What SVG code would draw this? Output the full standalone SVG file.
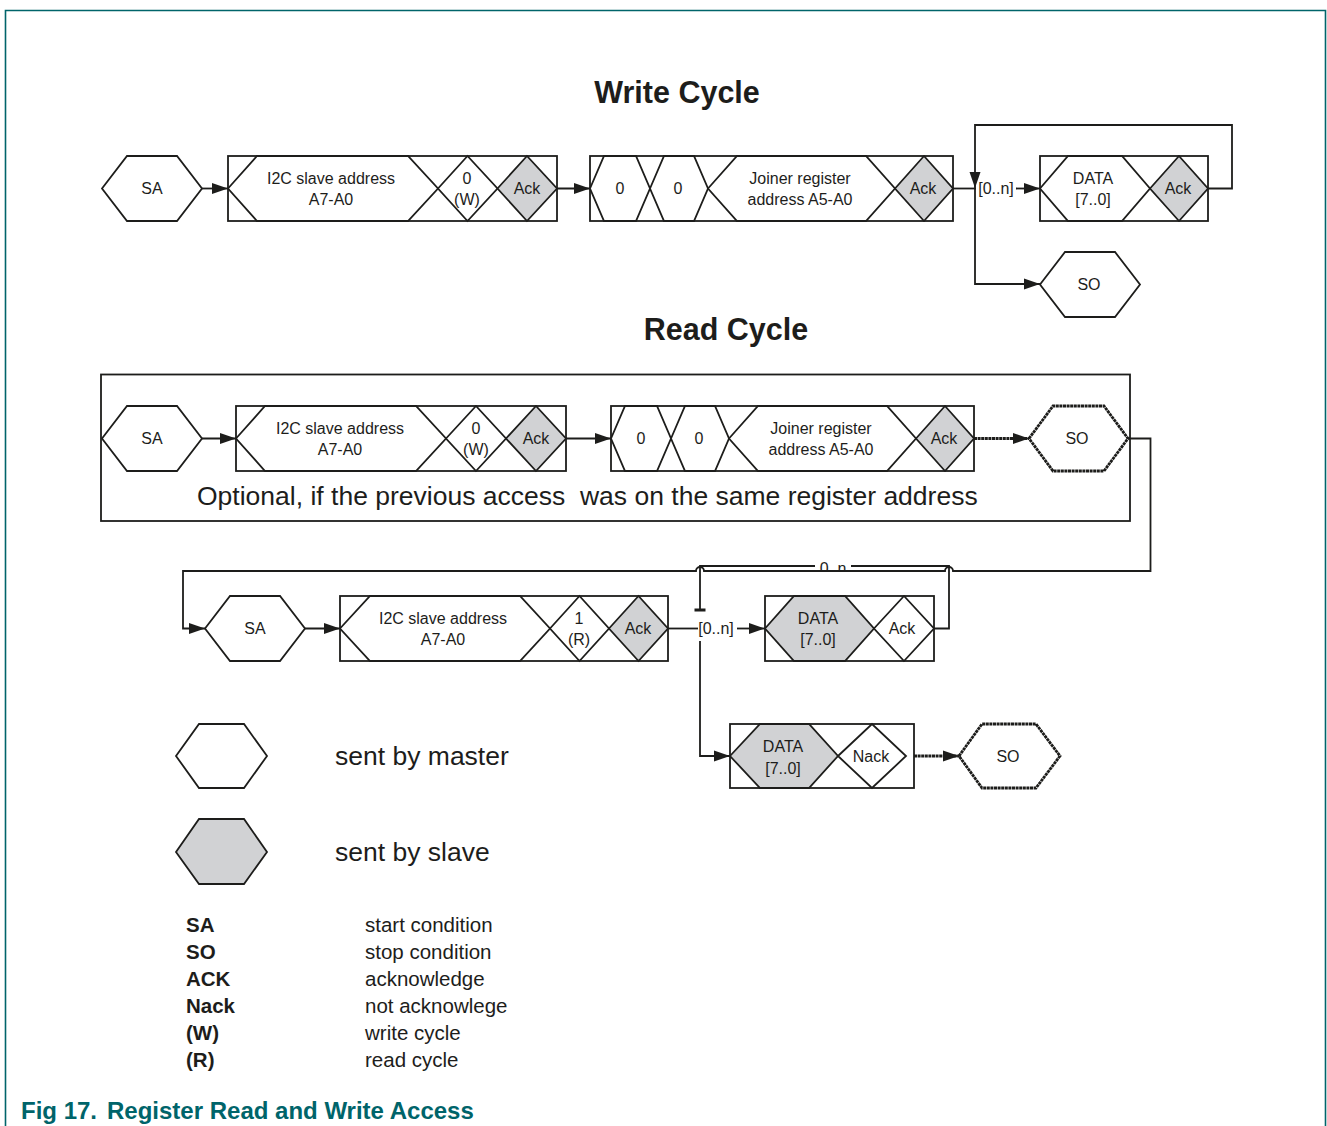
<svg xmlns="http://www.w3.org/2000/svg" width="1327" height="1126" viewBox="0 0 1327 1126">
<style>
text{font-family:"Liberation Sans",Arial,sans-serif;fill:#1d1d1b}
.t{font-size:16px;text-anchor:middle}
.box{fill:#fff;stroke:#1d1d1b;stroke-width:1.8}
.m{fill:#fff;stroke:#1d1d1b;stroke-width:1.8;stroke-linejoin:miter}
.s{fill:#d1d2d4;stroke:#1d1d1b;stroke-width:1.8;stroke-linejoin:miter}
.dso{fill:#fff;stroke:#1d1d1b;stroke-width:2.8;stroke-dasharray:3 0.6}
.c{fill:none;stroke:#1d1d1b;stroke-width:1.8}
.cd{fill:none;stroke:#1d1d1b;stroke-width:2.8;stroke-dasharray:3 0.6}
.title{font-size:30.5px;font-weight:bold;text-anchor:middle}
.lg{font-size:26.5px}
.lb{font-size:20.5px;font-weight:bold}
.ld{font-size:20.5px}
.cap{font-size:24px;font-weight:bold;fill:#00646a}
</style>
<defs>
<marker id="ah" markerUnits="userSpaceOnUse" markerWidth="16" markerHeight="12" refX="16" refY="6" orient="auto">
<path d="M0,0.5 L16,6 L0,11.5 z" fill="#1d1d1b"/>
</marker>
<clipPath id="clipn"><rect x="800" y="550" width="70" height="20"/></clipPath>
</defs>

<g id="frame" fill="none" stroke="#00646a" stroke-width="1.6">
<path d="M5.5,1126 V10.5 H1325.5 V1126"/>
</g>

<text class="title" x="677" y="103">Write Cycle</text>
<text class="title" x="726" y="340">Read Cycle</text>

<g id="optional-box">
<rect x="101" y="374.5" width="1029" height="146.5" fill="none" stroke="#1d1d1b" stroke-width="1.8"/>
<text x="197" y="505" style="font-size:26.5px;white-space:pre" xml:space="preserve">Optional, if the previous access  was on the same register address</text>
</g>

<g id="connectors">
<!-- write cycle -->
<path class="c" d="M202,188.5 H228" marker-end="url(#ah)"/>
<path class="c" d="M557,188.5 H590" marker-end="url(#ah)"/>
<path class="c" d="M953,188.5 H976"/>
<path class="c" d="M1208,188.5 H1232 V125 H975 V188" marker-end="url(#ah)"/>
<path class="c" d="M975,188 V284 H1040" marker-end="url(#ah)"/>
<path class="c" d="M1016,188.5 H1040" marker-end="url(#ah)"/>
<text class="t" x="996" y="194">[0..n]</text>
<!-- read cycle -->
<path class="c" d="M202,438.5 H236" marker-end="url(#ah)"/>
<path class="c" d="M566,438.5 H611" marker-end="url(#ah)"/>
<path class="cd" d="M974,438.5 H1029" marker-end="url(#ah)"/>
<path class="c" d="M1128,438.5 H1150.5 V571 H953 A4,4 0 0 0 945,571 H704 A4,4 0 0 0 696,571 H183 V628.5 H205" marker-end="url(#ah)"/>
<path class="c" d="M305,628.5 H340" marker-end="url(#ah)"/>
<path class="c" d="M668,628.5 H698"/>
<path class="c" d="M737,628.5 H765" marker-end="url(#ah)"/>
<text class="t" x="716" y="634">[0..n]</text>
<path class="c" d="M934,628.5 H949 V566 H851"/>
<path class="c" d="M815,566 H700 V610"/>
<rect x="694.5" y="608.5" width="11" height="3" fill="#1d1d1b"/>
<text class="t" x="833" y="574" clip-path="url(#clipn)">0..n</text>
<path class="c" d="M700,641 V756 H730" marker-end="url(#ah)"/>
<path class="cd" d="M914,756 H959" marker-end="url(#ah)"/>
</g>

<!-- Write cycle nodes -->
<g id="w-sa">
<polygon class="m" points="102,188.5 127,156 177,156 202,188.5 177,221 127,221"/>
<text class="t" x="152" y="194">SA</text>
</g>
<g id="w-addr">
<rect class="box" x="228" y="156" width="329" height="65"/>
<polygon class="m" points="228,188.5 257,156 408,156 438,188.5 408,221 257,221"/>
<polygon class="m" points="438,188.5 467.5,156 497.5,188.5 467.5,221"/>
<polygon class="s" points="497.5,188.5 527,156 557,188.5 527,221"/>
<text class="t" x="331" y="184">I2C slave address</text>
<text class="t" x="331" y="205">A7-A0</text>
<text class="t" x="467" y="184">0</text>
<text class="t" x="467" y="205">(W)</text>
<text class="t" x="527" y="194">Ack</text>
</g>
<g id="w-reg">
<rect class="box" x="590" y="156" width="363" height="65"/>
<polygon class="m" points="590,188.5 604,156 636,156 650,188.5 636,221 604,221"/>
<polygon class="m" points="650,188.5 664,156 694,156 708,188.5 694,221 664,221"/>
<polygon class="m" points="708,188.5 737,156 866,156 895,188.5 866,221 737,221"/>
<polygon class="s" points="895,188.5 924,156 953,188.5 924,221"/>
<text class="t" x="620" y="194">0</text>
<text class="t" x="678" y="194">0</text>
<text class="t" x="800" y="184">Joiner register</text>
<text class="t" x="800" y="205">address A5-A0</text>
<text class="t" x="923" y="194">Ack</text>
</g>
<g id="w-data">
<rect class="box" x="1040" y="156" width="168" height="65"/>
<polygon class="m" points="1040,188.5 1068,156 1122,156 1150,188.5 1122,221 1068,221"/>
<polygon class="s" points="1150,188.5 1179,156 1208,188.5 1179,221"/>
<text class="t" x="1093" y="184">DATA</text>
<text class="t" x="1093" y="205">[7..0]</text>
<text class="t" x="1178" y="194">Ack</text>
</g>
<g id="w-so">
<polygon class="m" points="1040,284.5 1065,252 1115,252 1140,284.5 1115,317 1065,317"/>
<text class="t" x="1089" y="290">SO</text>
</g>

<!-- Read cycle nodes -->
<g id="r-sa">
<polygon class="m" points="102,438.5 127,406 177,406 202,438.5 177,471 127,471"/>
<text class="t" x="152" y="444">SA</text>
</g>
<g id="r-addr">
<rect class="box" x="236" y="406" width="330" height="65"/>
<polygon class="m" points="236,438.5 265,406 416,406 446,438.5 416,471 265,471"/>
<polygon class="m" points="446,438.5 476,406 506,438.5 476,471"/>
<polygon class="s" points="506,438.5 536,406 566,438.5 536,471"/>
<text class="t" x="340" y="434">I2C slave address</text>
<text class="t" x="340" y="455">A7-A0</text>
<text class="t" x="476" y="434">0</text>
<text class="t" x="476" y="455">(W)</text>
<text class="t" x="536" y="444">Ack</text>
</g>
<g id="r-reg">
<rect class="box" x="611" y="406" width="363" height="65"/>
<polygon class="m" points="611,438.5 625,406 657,406 671,438.5 657,471 625,471"/>
<polygon class="m" points="671,438.5 685,406 715,406 729,438.5 715,471 685,471"/>
<polygon class="m" points="729,438.5 758,406 887,406 916,438.5 887,471 758,471"/>
<polygon class="s" points="916,438.5 945,406 974,438.5 945,471"/>
<text class="t" x="641" y="444">0</text>
<text class="t" x="699" y="444">0</text>
<text class="t" x="821" y="434">Joiner register</text>
<text class="t" x="821" y="455">address A5-A0</text>
<text class="t" x="944" y="444">Ack</text>
</g>
<g id="r-so">
<polygon class="dso" points="1029,438.5 1053,406 1104,406 1128,438.5 1104,471 1053,471"/>
<text class="t" x="1077" y="444">SO</text>
</g>
<g id="r-sa2">
<polygon class="m" points="205,628.5 230,596 280,596 305,628.5 280,661 230,661"/>
<text class="t" x="255" y="634">SA</text>
</g>
<g id="r-addr2">
<rect class="box" x="340" y="596" width="328" height="65"/>
<polygon class="m" points="340,628.5 370,596 520,596 550,628.5 520,661 370,661"/>
<polygon class="m" points="550,628.5 579.5,596 609,628.5 579.5,661"/>
<polygon class="s" points="609,628.5 638.5,596 668,628.5 638.5,661"/>
<text class="t" x="443" y="624">I2C slave address</text>
<text class="t" x="443" y="645">A7-A0</text>
<text class="t" x="579" y="624">1</text>
<text class="t" x="579" y="645">(R)</text>
<text class="t" x="638" y="634">Ack</text>
</g>
<g id="r-data">
<rect class="box" x="765" y="596" width="169" height="65"/>
<polygon class="s" points="765,628.5 794,596 845,596 874,628.5 845,661 794,661"/>
<polygon class="m" points="874,628.5 904,596 934,628.5 904,661"/>
<text class="t" x="818" y="624">DATA</text>
<text class="t" x="818" y="645">[7..0]</text>
<text class="t" x="902" y="634">Ack</text>
</g>
<g id="r-data-nack">
<rect class="box" x="730" y="724" width="184" height="64"/>
<polygon class="s" points="730,756 760,724 809,724 838,756 809,788 760,788"/>
<polygon class="m" points="838,756 872,724 906,756 872,788"/>
<text class="t" x="783" y="752">DATA</text>
<text class="t" x="783" y="774">[7..0]</text>
<text class="t" x="871" y="762">Nack</text>
</g>
<g id="r-so2">
<polygon class="dso" points="959,756 982,724 1036,724 1060,756 1036,788 982,788"/>
<text class="t" x="1008" y="762">SO</text>
</g>

<!-- Legend -->
<g id="legend-master">
<polygon class="m" points="176,756 199,724 244,724 267,756 244,788 199,788"/>
<text class="lg" x="335" y="765">sent by master</text>
</g>
<g id="legend-slave">
<polygon class="s" points="176,852 199,819 244,819 267,852 244,884 199,884"/>
<text class="lg" x="335" y="861">sent by slave</text>
</g>
<g id="legend-terms">
<text class="lb" x="186" y="932">SA</text>
<text class="lb" x="186" y="959">SO</text>
<text class="lb" x="186" y="986">ACK</text>
<text class="lb" x="186" y="1013">Nack</text>
<text class="lb" x="186" y="1040">(W)</text>
<text class="lb" x="186" y="1067">(R)</text>
<text class="ld" x="365" y="932">start condition</text>
<text class="ld" x="365" y="959">stop condition</text>
<text class="ld" x="365" y="986">acknowledge</text>
<text class="ld" x="365" y="1013">not acknowlege</text>
<text class="ld" x="365" y="1040">write cycle</text>
<text class="ld" x="365" y="1067">read cycle</text>
</g>

<g id="caption">
<text class="cap" x="21" y="1119">Fig 17.</text>
<text class="cap" x="107" y="1119">Register Read and Write Access</text>
</g>
</svg>
